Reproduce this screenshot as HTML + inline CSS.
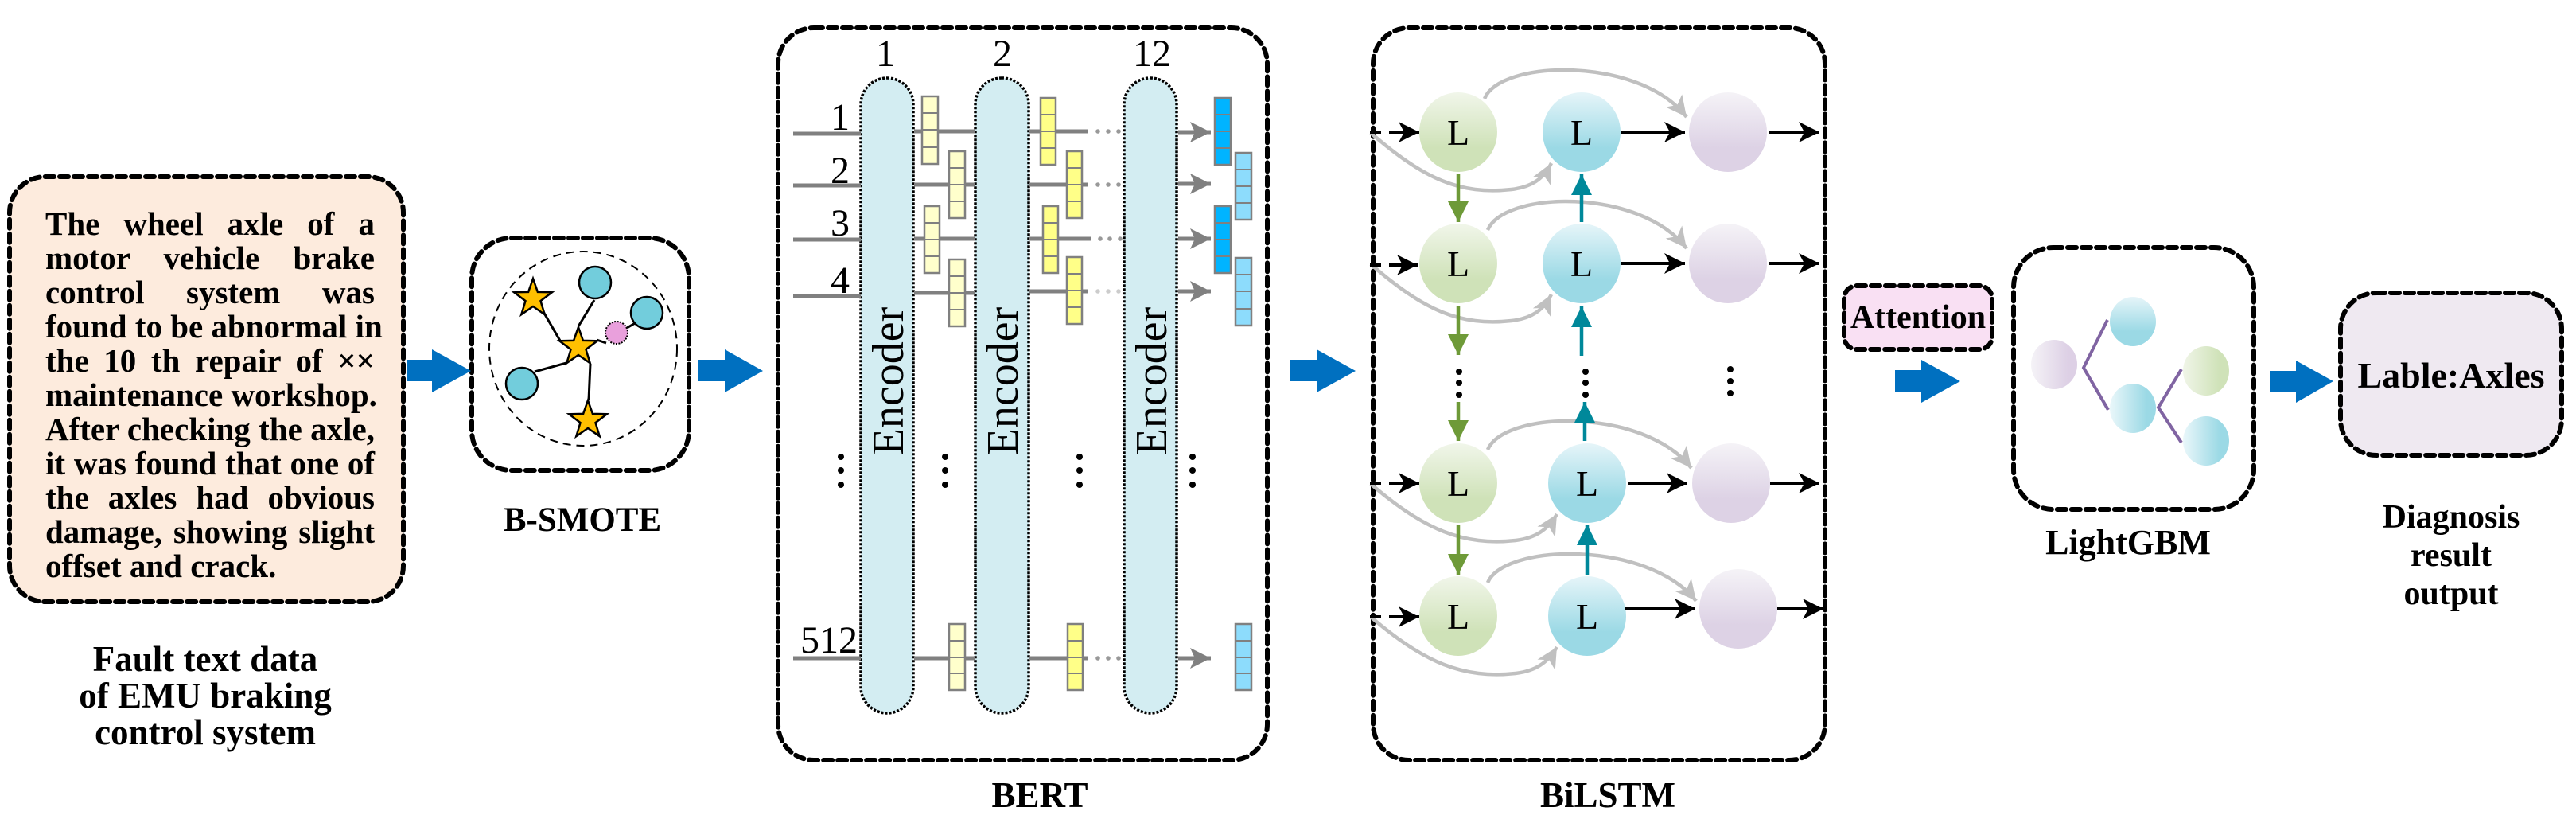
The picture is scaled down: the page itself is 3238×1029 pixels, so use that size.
<!DOCTYPE html>
<html><head><meta charset="utf-8"><style>
html,body{margin:0;padding:0;background:#fff;}
#wrap{position:relative;width:3238px;height:1029px;overflow:hidden;}
svg{position:absolute;left:0;top:0;font-family:"Liberation Serif","Times New Roman",Times,"DejaVu Serif",serif;}
#txt{position:absolute;left:57px;top:260px;width:414px;font-family:"Liberation Serif","Times New Roman",Times,"DejaVu Serif",serif;font-weight:bold;font-size:41px;line-height:43px;color:#000;}
#txt div{height:43px;white-space:nowrap;text-align:justify;text-align-last:justify;}
#txt div.last{text-align-last:left;}
</style></head><body><div id="wrap">
<svg width="3238" height="1029" viewBox="0 0 3238 1029" xmlns="http://www.w3.org/2000/svg">
<defs>
<marker id="mb" markerUnits="userSpaceOnUse" markerWidth="30" markerHeight="30" refX="26" refY="13" orient="auto"><path d="M0,0 L26,13 L0,26 L7,13 Z" fill="#000"/></marker>
<marker id="mg" markerUnits="userSpaceOnUse" markerWidth="30" markerHeight="30" refX="26" refY="13" orient="auto"><path d="M0,0 L26,13 L0,26 L7,13 Z" fill="#c0c0c0"/></marker>
<marker id="mgr" markerUnits="userSpaceOnUse" markerWidth="30" markerHeight="30" refX="26" refY="13" orient="auto"><path d="M0,0 L26,13 L0,26 L6,13 Z" fill="#808080"/></marker>
<marker id="mgreen" markerUnits="userSpaceOnUse" markerWidth="30" markerHeight="30" refX="26" refY="13" orient="auto"><path d="M0,0 L26,13 L0,26 Z" fill="#6e9a38"/></marker>
<marker id="mteal" markerUnits="userSpaceOnUse" markerWidth="30" markerHeight="30" refX="26" refY="13" orient="auto"><path d="M0,0 L26,13 L0,26 Z" fill="#00889a"/></marker>
<linearGradient id="gG" x1="0" y1="0" x2="0" y2="1"><stop offset="0" stop-color="#f1f6ea"/><stop offset="0.7" stop-color="#cfe2b8"/></linearGradient>
<linearGradient id="gB" x1="0" y1="0" x2="0" y2="1"><stop offset="0" stop-color="#e6f5f9"/><stop offset="0.7" stop-color="#9bd9e5"/></linearGradient>
<linearGradient id="gP" x1="0" y1="0" x2="0" y2="1"><stop offset="0" stop-color="#f5f3f7"/><stop offset="0.7" stop-color="#ddd2e5"/></linearGradient>
<linearGradient id="hP" x1="0" y1="0" x2="1" y2="0"><stop offset="0" stop-color="#f5f3f7"/><stop offset="0.8" stop-color="#ddd0e5"/></linearGradient>
<linearGradient id="hB" x1="0" y1="0" x2="1" y2="0"><stop offset="0" stop-color="#eaf7fa"/><stop offset="0.8" stop-color="#9bd9e5"/></linearGradient>
<linearGradient id="hG" x1="0" y1="0" x2="1" y2="0"><stop offset="0" stop-color="#f0f5e8"/><stop offset="0.8" stop-color="#cfe2b8"/></linearGradient>
<polygon id="star" points="0,-25 5.9,-8.1 23.8,-7.7 9.5,3.1 14.7,20.2 0,10 -14.7,20.2 -9.5,3.1 -23.8,-7.7 -5.9,-8.1" fill="#ffc000" stroke="#000" stroke-width="2.5" stroke-linejoin="miter"/>
</defs>

<g fill="none" stroke="#000" stroke-width="6" stroke-dasharray="11 7" stroke-linecap="round">
<rect x="12" y="222" width="495" height="534" rx="45" fill="#fdebdd"/>
<rect x="593" y="299" width="273" height="292" rx="50"/>
<rect x="978" y="35" width="615" height="920" rx="45"/>
<rect x="1726" y="35" width="568" height="920" rx="45"/>
<rect x="2318" y="359" width="186" height="80" rx="16" fill="#f9e0f3"/>
<rect x="2531" y="311" width="302" height="329" rx="50"/>
<rect x="2942" y="368" width="278" height="204" rx="45" fill="#efe9f1"/>
</g>

<g fill="#0070c0">
<polygon points="511,452 543,452 543,439 592,466 543,493 543,479 511,479"/>
<polygon points="878,452 911,452 911,439 959,466 911,493 911,479 878,479"/>
<polygon points="1622,452 1655,452 1655,439 1704,466 1655,493 1655,479 1622,479"/>
<polygon points="2382,465 2415,465 2415,452 2464,479 2415,506 2415,493 2382,493"/>
<polygon points="2853,466 2886,466 2886,453 2933,479 2886,506 2886,493 2853,493"/>
</g>

<g font-weight="bold" text-anchor="middle" fill="#000">
<text x="258" y="843" font-size="45">Fault text data</text>
<text x="258" y="889" font-size="45">of EMU braking</text>
<text x="258" y="935" font-size="45">control system</text>
<text x="732" y="667" font-size="43">B-SMOTE</text>
<text x="1307" y="1014" font-size="45">BERT</text>
<text x="2021" y="1014" font-size="45">BiLSTM</text>
<text x="2411" y="412" font-size="42">Attention</text>
<text x="2675" y="696" font-size="44">LightGBM</text>
<text x="3081" y="487" font-size="46">Lable:Axles</text>
<text x="3081" y="663" font-size="42">Diagnosis</text>
<text x="3081" y="711" font-size="42">result</text>
<text x="3081" y="759" font-size="42">output</text>
</g>

<ellipse cx="733" cy="438" rx="118" ry="122" fill="none" stroke="#000" stroke-width="2" stroke-dasharray="10 7"/>
<g stroke="#000" stroke-width="3" fill="none">
<line x1="682" y1="390" x2="704" y2="428"/>
<line x1="747" y1="377" x2="727" y2="410"/>
<polyline points="672,467 712,456 718,447"/>
<line x1="742" y1="457" x2="740" y2="503"/>
<line x1="750" y1="427" x2="762" y2="431"/>
<line x1="788" y1="412" x2="800" y2="405"/>
</g>
<g fill="#72cddc" stroke="#000" stroke-width="2.5">
<circle cx="748" cy="355" r="20"/>
<circle cx="813" cy="393" r="20"/>
<circle cx="656" cy="482" r="20"/>
</g>
<circle cx="775" cy="418" r="14" fill="#e9a0dc" stroke="#000" stroke-width="2" stroke-dasharray="2 1.5"/>
<use href="#star" x="670" y="375"/>
<use href="#star" x="727" y="436"/>
<use href="#star" x="739" y="528"/>

<g fill="#d3edf2" stroke="#000" stroke-width="3.5" stroke-dasharray="3 2">
<rect x="1082" y="98" width="66" height="798" rx="33"/>
<rect x="1226" y="98" width="67" height="798" rx="33"/>
<rect x="1413" y="98" width="66" height="798" rx="33"/>
</g>
<g font-size="48" text-anchor="middle" fill="#000">
<text x="1113" y="83">1</text><text x="1260" y="83">2</text><text x="1448" y="83">12</text>
</g>
<g font-size="48" text-anchor="end" fill="#000">
<text x="1068" y="163">1</text><text x="1068" y="230">2</text><text x="1068" y="296">3</text><text x="1068" y="368">4</text><text x="1078" y="820">512</text>
</g>
<g font-size="56" fill="#000" text-anchor="middle">
<text transform="translate(1135,479) rotate(-90)">Encoder</text>
<text transform="translate(1279,479) rotate(-90)">Encoder</text>
<text transform="translate(1466,479) rotate(-90)">Encoder</text>
</g>
<g stroke="#808080" stroke-width="5">
<line x1="997" y1="168" x2="1082" y2="168"/><line x1="997" y1="233" x2="1082" y2="233"/><line x1="997" y1="301" x2="1082" y2="301"/><line x1="997" y1="372" x2="1082" y2="372"/><line x1="997" y1="827" x2="1082" y2="827"/>
<line x1="1149" y1="165" x2="1226" y2="165"/><line x1="1149" y1="232" x2="1226" y2="232"/><line x1="1149" y1="300" x2="1226" y2="300"/><line x1="1149" y1="368" x2="1226" y2="368"/><line x1="1149" y1="827" x2="1226" y2="827"/>
<line x1="1294" y1="165" x2="1368" y2="165"/><line x1="1294" y1="232" x2="1368" y2="232"/><line x1="1294" y1="300" x2="1372" y2="300"/><line x1="1294" y1="366" x2="1368" y2="366"/><line x1="1294" y1="827" x2="1368" y2="827"/>
</g>
<g fill="#999">
<circle cx="1380" cy="165" r="2.8"/><circle cx="1393" cy="165" r="2.8"/><circle cx="1406" cy="165" r="2.8"/>
<circle cx="1380" cy="232" r="2.8"/><circle cx="1393" cy="232" r="2.8"/><circle cx="1406" cy="232" r="2.8"/>
<circle cx="1383" cy="300" r="2.8"/><circle cx="1395" cy="300" r="2.8"/><circle cx="1408" cy="300" r="2.8"/>
<circle cx="1380" cy="366" r="2.8" fill="#ccc"/><circle cx="1393" cy="366" r="2.8" fill="#ccc"/><circle cx="1406" cy="366" r="2.8" fill="#ccc"/>
<circle cx="1380" cy="827" r="2.8"/><circle cx="1393" cy="827" r="2.8"/><circle cx="1406" cy="827" r="2.8"/>
</g>
<g stroke="#808080" stroke-width="5" marker-end="url(#mgr)">
<line x1="1481" y1="166" x2="1522" y2="166"/><line x1="1481" y1="231" x2="1522" y2="231"/><line x1="1481" y1="300" x2="1522" y2="300"/><line x1="1481" y1="366" x2="1522" y2="366"/><line x1="1481" y1="827" x2="1522" y2="827"/>
</g>
<g stroke="#808080" stroke-width="2.5">
<g fill="#ffffcc">
<rect x="1159" y="121" width="20" height="85"/><rect x="1193" y="190" width="20" height="84"/><rect x="1162" y="259" width="19" height="84"/><rect x="1193" y="326" width="20" height="84"/><rect x="1193" y="784" width="20" height="83"/>
</g>
<g fill="#ffff88">
<rect x="1308" y="123" width="19" height="84"/><rect x="1341" y="190" width="19" height="84"/><rect x="1311" y="259" width="19" height="84"/><rect x="1341" y="323" width="19" height="84"/><rect x="1342" y="784" width="19" height="83"/>
</g>
<g fill="#00b4ff">
<rect x="1527" y="123" width="20" height="84"/><rect x="1527" y="259" width="20" height="84"/>
</g>
<g fill="#8ddcfc">
<rect x="1553" y="192" width="20" height="84"/><rect x="1553" y="324" width="20" height="85"/><rect x="1553" y="784" width="20" height="83"/>
</g>
</g>
<g stroke="#808080" stroke-width="2">
<path d="M1159,142h20M1159,163h20M1159,185h20 M1193,211h20M1193,232h20M1193,253h20 M1162,280h19M1162,301h19M1162,322h19 M1193,347h20M1193,368h20M1193,389h20 M1193,805h20M1193,826h20M1193,846h20"/>
<path d="M1308,144h19M1308,165h19M1308,186h19 M1341,211h19M1341,232h19M1341,253h19 M1311,280h19M1311,301h19M1311,322h19 M1341,344h19M1341,365h19M1341,386h19 M1342,805h19M1342,826h19M1342,846h19"/>
<path d="M1527,144h20M1527,165h20M1527,186h20 M1527,280h20M1527,301h20M1527,322h20"/>
<path d="M1553,213h20M1553,234h20M1553,255h20 M1553,345h20M1553,366h20M1553,388h20 M1553,805h20M1553,826h20M1553,846h20"/>
</g>
<g fill="#000">
<circle cx="1057" cy="574" r="4"/><circle cx="1057" cy="591" r="4"/><circle cx="1057" cy="609" r="4"/>
<circle cx="1188" cy="574" r="4"/><circle cx="1188" cy="591" r="4"/><circle cx="1188" cy="609" r="4"/>
<circle cx="1357" cy="574" r="4"/><circle cx="1357" cy="591" r="4"/><circle cx="1357" cy="609" r="4"/>
<circle cx="1499" cy="574" r="4"/><circle cx="1499" cy="591" r="4"/><circle cx="1499" cy="609" r="4"/>
</g>

<g fill="none" stroke="#c0c0c0" stroke-width="4.5" marker-end="url(#mg)">
<path d="M1723,167 C1790,225 1835,245 1900,238 C1925,235 1940,225 1950,205"/>
<path d="M1866,124 C1885,75 2060,70 2120,147"/>
<path d="M1723,332 C1790,390 1835,410 1900,403 C1925,400 1940,390 1950,370"/>
<path d="M1870,289 C1890,240 2060,235 2120,312"/>
<path d="M1723,608 C1790,666 1840,686 1905,679 C1930,676 1945,666 1957,646"/>
<path d="M1870,565 C1890,516 2065,511 2126,588"/>
<path d="M1723,775 C1790,833 1840,853 1905,846 C1930,843 1945,833 1957,813"/>
<path d="M1870,732 C1890,683 2070,678 2132,755"/>
</g>
<g>
<ellipse cx="1833" cy="166" rx="49" ry="50" fill="url(#gG)"/>
<ellipse cx="1833" cy="331" rx="49" ry="50" fill="url(#gG)"/>
<ellipse cx="1833" cy="607" rx="49" ry="50" fill="url(#gG)"/>
<ellipse cx="1833" cy="774" rx="49" ry="50" fill="url(#gG)"/>
<ellipse cx="1988" cy="166" rx="49" ry="50" fill="url(#gB)"/>
<ellipse cx="1988" cy="331" rx="49" ry="50" fill="url(#gB)"/>
<ellipse cx="1995" cy="607" rx="49" ry="50" fill="url(#gB)"/>
<ellipse cx="1995" cy="774" rx="49" ry="50" fill="url(#gB)"/>
<ellipse cx="2172" cy="166" rx="49" ry="50" fill="url(#gP)"/>
<ellipse cx="2172" cy="331" rx="49" ry="50" fill="url(#gP)"/>
<ellipse cx="2176" cy="607" rx="49" ry="50" fill="url(#gP)"/>
<ellipse cx="2185" cy="765" rx="49" ry="50" fill="url(#gP)"/>
</g>
<g font-size="46" text-anchor="middle" fill="#000">
<text x="1833" y="182">L</text><text x="1833" y="347">L</text><text x="1833" y="623">L</text><text x="1833" y="790">L</text>
<text x="1988" y="182">L</text><text x="1988" y="347">L</text><text x="1995" y="623">L</text><text x="1995" y="790">L</text>
</g>
<g stroke="#000" stroke-width="4" stroke-dasharray="14 10" fill="none">
<line x1="1722" y1="166" x2="1760" y2="166"/><line x1="1722" y1="333" x2="1760" y2="333"/><line x1="1722" y1="607" x2="1760" y2="607"/><line x1="1722" y1="775" x2="1760" y2="775"/>
</g>
<g stroke="#000" stroke-width="4" marker-end="url(#mb)">
<line x1="1750" y1="166" x2="1784" y2="166"/><line x1="1750" y1="333" x2="1782" y2="333"/><line x1="1750" y1="607" x2="1784" y2="607"/><line x1="1750" y1="775" x2="1784" y2="775"/>
<line x1="2038" y1="166" x2="2118" y2="166"/><line x1="2038" y1="331" x2="2118" y2="331"/><line x1="2046" y1="607" x2="2121" y2="607"/><line x1="2043" y1="765" x2="2131" y2="765"/>
<line x1="2223" y1="166" x2="2287" y2="166"/><line x1="2223" y1="331" x2="2287" y2="331"/><line x1="2225" y1="607" x2="2287" y2="607"/><line x1="2234" y1="765" x2="2292" y2="765"/>
</g>
<g stroke="#6e9a38" stroke-width="4.5" marker-end="url(#mgreen)">
<line x1="1833" y1="218" x2="1833" y2="279"/><line x1="1833" y1="385" x2="1833" y2="446"/><line x1="1833" y1="505" x2="1833" y2="554"/><line x1="1833" y1="659" x2="1833" y2="722"/>
</g>
<g stroke="#00889a" stroke-width="4.5" marker-end="url(#mteal)">
<line x1="1988" y1="279" x2="1988" y2="219"/><line x1="1988" y1="447" x2="1988" y2="385"/><line x1="1992" y1="554" x2="1992" y2="505"/><line x1="1995" y1="722" x2="1995" y2="659"/>
</g>
<g fill="#000">
<circle cx="1834" cy="467" r="4"/><circle cx="1834" cy="481" r="4"/><circle cx="1834" cy="496" r="4"/>
<circle cx="1993" cy="467" r="4"/><circle cx="1993" cy="481" r="4"/><circle cx="1993" cy="496" r="4"/>
<circle cx="2175" cy="464" r="4"/><circle cx="2175" cy="479" r="4"/><circle cx="2175" cy="494" r="4"/>
</g>

<g stroke="#8064a2" stroke-width="4" fill="none">
<polyline points="2649,402 2619,462 2650,515"/>
<polyline points="2742,464 2713,512 2742,556"/>
</g>
<ellipse cx="2582" cy="458" rx="29" ry="31" fill="url(#hP)"/>
<ellipse cx="2681" cy="404" rx="29" ry="31" fill="url(#gB)"/>
<ellipse cx="2681" cy="513" rx="29" ry="31" fill="url(#hB)"/>
<ellipse cx="2773" cy="466" rx="29" ry="31" fill="url(#hG)"/>
<ellipse cx="2773" cy="554" rx="29" ry="31" fill="url(#hB)"/>
</svg>
<div id="txt">
<div>The wheel axle of a</div>
<div>motor vehicle brake</div>
<div>control system was</div>
<div>found to be abnormal in</div>
<div>the 10 th repair of ××</div>
<div>maintenance workshop.</div>
<div>After checking the axle,</div>
<div>it was found that one of</div>
<div>the axles had obvious</div>
<div>damage, showing slight</div>
<div class="last">offset and crack.</div>
</div>
</div></body></html>
